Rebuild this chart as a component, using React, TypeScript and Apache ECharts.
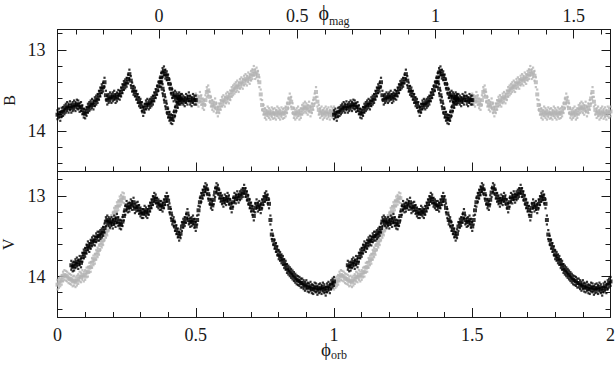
import React, { useEffect, useRef } from "react";
import * as echarts from "echarts";

const PHASE_STEP = 0.005;

// ---- V band (bottom panel), x = orbital phase ----
const V_BLACK_START = 0.05;
const V_BLACK = [
  13.86, 13.88, 13.87, 13.84, 13.82, 13.85, 13.80, 13.83, 13.76, 13.72,
  13.70, 13.66, 13.62, 13.64, 13.60, 13.57, 13.55, 13.56, 13.52, 13.50,
  13.50, 13.48, 13.46, 13.44, 13.40, 13.32, 13.30, 13.32, 13.34, 13.32,
  13.35, 13.30, 13.33, 13.28, 13.32, 13.35, 13.36, 13.32, 13.25, 13.18,
  13.12, 13.15, 13.14, 13.10, 13.12, 13.08, 13.16, 13.14, 13.13, 13.17,
  13.20, 13.22, 13.22, 13.18, 13.20, 13.22, 13.18, 13.14, 13.10, 13.06,
  13.02, 13.04, 13.08, 13.10, 13.12, 13.12, 13.14, 13.10, 13.06, 13.02,
  13.06, 13.15, 13.22, 13.30, 13.32, 13.38, 13.42, 13.46, 13.50, 13.47,
  13.38, 13.34, 13.32, 13.28, 13.22, 13.30, 13.33, 13.32, 13.30, 13.34,
  13.38, 13.30, 13.18, 13.08, 13.02, 12.98, 12.94, 12.90, 12.92, 12.98,
  13.05, 13.10, 13.12, 13.05, 12.96, 12.90, 12.92, 12.98, 13.02, 13.05,
  13.08, 13.04, 13.06, 13.02, 13.05, 13.10, 13.15, 13.08, 13.02, 13.04,
  13.00, 13.03, 13.00, 12.98, 12.96, 12.92, 12.96, 13.00, 13.05, 13.10,
  13.14, 13.18, 13.25, 13.15, 13.10, 13.14, 13.12, 13.16, 13.10, 13.06,
  13.02, 13.00, 13.04, 13.10, 13.30, 13.48, 13.55, 13.60, 13.64, 13.68,
  13.73, 13.75, 13.78, 13.80, 13.84, 13.86, 13.90, 13.92, 13.94, 13.96,
  13.98, 14.00, 14.02, 14.04, 14.05, 14.06, 14.08, 14.08, 14.10, 14.12,
  14.10, 14.13, 14.14, 14.12, 14.15, 14.16, 14.13, 14.14, 14.17, 14.15,
  14.14, 14.16, 14.13, 14.15, 14.18, 14.14, 14.12, 14.15, 14.10, 14.08,
  14.06,
];
const V_GREY_START = 0.0;
const V_GREY = [
  14.10, 14.08, 14.06, 14.04, 14.00, 13.98, 13.99, 14.00, 14.02, 14.03,
  14.04, 14.06, 14.05, 14.07, 14.05, 14.03, 14.00, 14.01, 13.98, 14.00,
  13.98, 13.95, 13.94, 13.89, 13.88, 13.83, 13.80, 13.78, 13.73, 13.70,
  13.67, 13.61, 13.58, 13.55, 13.49, 13.46, 13.43, 13.37, 13.35, 13.30,
  13.27, 13.21, 13.19, 13.14, 13.12, 13.07, 13.05, 13.02, 13.03,
];

// ---- B band (top panel), x = magnetic phase ----
const B_BLACK_START = -0.367;
const B_BLACK = [
  13.80, 13.78, 13.82, 13.77, 13.76, 13.74, 13.72, 13.70, 13.72, 13.69,
  13.72, 13.70, 13.68, 13.70, 13.67, 13.68, 13.71, 13.70, 13.74, 13.78,
  13.79, 13.76, 13.72, 13.70, 13.68, 13.66, 13.68, 13.64, 13.62, 13.60,
  13.56, 13.52, 13.48, 13.46, 13.40, 13.56, 13.62, 13.60, 13.58, 13.60,
  13.58, 13.56, 13.60, 13.58, 13.55, 13.56, 13.52, 13.48, 13.44, 13.42,
  13.40, 13.36, 13.30, 13.38, 13.46, 13.50, 13.52, 13.56, 13.60, 13.64,
  13.66, 13.70, 13.76, 13.72, 13.68, 13.66, 13.68, 13.66, 13.64, 13.62,
  13.58, 13.54, 13.50, 13.45, 13.40, 13.34, 13.28, 13.26, 13.30, 13.32,
  13.36, 13.42, 13.48, 13.54, 13.58, 13.56, 13.58, 13.60, 13.58, 13.62,
  13.60, 13.62, 13.64, 13.60, 13.62, 13.58, 13.62, 13.64, 13.60, 13.62,
  13.62,
];
const B_BRANCH_START = 0.008;
const B_BRANCH = [
  13.40, 13.48, 13.56, 13.64, 13.72, 13.78, 13.82, 13.85, 13.86, 13.82,
  13.76, 13.70, 13.66, 13.62, 13.60,
];
const B_GREY_START = 0.133;
const B_GREY = [
  13.60, 13.62, 13.64, 13.58, 13.62, 13.66, 13.68, 13.62, 13.52, 13.50,
  13.58, 13.64, 13.68, 13.70, 13.66, 13.72, 13.76, 13.72, 13.68, 13.64,
  13.62, 13.64, 13.60, 13.58, 13.60, 13.56, 13.52, 13.50, 13.48, 13.46,
  13.44, 13.46, 13.42, 13.40, 13.42, 13.38, 13.36, 13.38, 13.34, 13.36,
  13.32, 13.30, 13.26, 13.30, 13.28, 13.32, 13.40, 13.55, 13.68, 13.74,
  13.78, 13.80, 13.76, 13.78, 13.80, 13.77, 13.79, 13.78, 13.80, 13.76,
  13.78, 13.80, 13.77, 13.79, 13.78, 13.76, 13.72, 13.66, 13.60, 13.64,
  13.72, 13.78, 13.80, 13.78, 13.76, 13.80, 13.78, 13.74, 13.72, 13.70,
  13.72, 13.74, 13.70, 13.76, 13.72, 13.68, 13.60, 13.52, 13.64, 13.74,
  13.78, 13.76, 13.80, 13.78, 13.76, 13.79, 13.77, 13.80, 13.76, 13.78,
  13.76,
];

// Axis ranges and band half-widths (scatter spread around each read value)
const ORB_RANGE = [0, 2];
const MAG_RANGE = [-0.367, 1.633];
const B_RANGE = [12.75, 14.5];
const V_RANGE = [12.7, 14.5];
const CYCLES = [0, 1];
const SPREAD = { vBlack: 0.055, vGrey: 0.06, bBlack: 0.055, bGrey: 0.06 };

const BLACK = "#000000";
const GREY = "#b3b3b3";
const AXIS = "#1a1a1a";
const FONT = "'Liberation Serif', 'DejaVu Serif', serif";

function pts(start: number, vals: number[], offset: number) {
  const out: number[][] = [];
  for (const c of CYCLES) {
    vals.forEach((m, i) => {
      out.push([+(start + i * PHASE_STEP + c).toFixed(4), +(m + offset).toFixed(3)]);
    });
  }
  return out;
}

function bandSeries(start: number, vals: number[], spread: number, color: string, xi: number, yi: number) {
  const base = {
    type: "scatter",
    xAxisIndex: xi,
    yAxisIndex: yi,
    symbol: "rect",
    silent: true,
    animation: false,
    itemStyle: { color },
  };
  return [
    { ...base, data: pts(start, vals, -spread), symbolSize: 2.2 },
    { ...base, data: pts(start, vals, spread), symbolSize: 2.2 },
    { ...base, data: pts(start, vals, 0), symbolSize: 4 },
  ];
}

const halfFmt = (v: number) => {
  const r = Math.round(v * 2) / 2;
  return Math.abs(v - r) < 1e-6 ? String(r) : "";
};
const intFmt = (v: number) => {
  const r = Math.round(v);
  return Math.abs(v - r) < 1e-6 ? String(r) : "";
};

const axisLine = { show: true, onZero: false, lineStyle: { color: AXIS, width: 1 } };
const axisTick = { show: true, inside: true, length: 9, lineStyle: { color: AXIS, width: 1 } };
const minorTick = { show: true, splitNumber: 5, length: 5, lineStyle: { color: AXIS, width: 1 } };
const labelStyle = { fontFamily: FONT, fontSize: 18, color: AXIS };
const nameRich = {
  p: { fontFamily: FONT, fontSize: 20, color: AXIS, padding: [0, 0, 4, 0] },
  s: { fontFamily: FONT, fontSize: 12, color: AXIS, verticalAlign: "bottom" },
};
const nameRichBottom = {
  p: { fontFamily: FONT, fontSize: 19, color: AXIS, padding: [0, 0, 2, 0] },
  s: { fontFamily: FONT, fontSize: 12, color: AXIS, verticalAlign: "bottom" },
};
const yNameStyle = { fontFamily: FONT, fontSize: 16, color: AXIS };

function buildOption() {
  const xAxis = [
    {
      gridIndex: 0, type: "value", position: "bottom",
      min: ORB_RANGE[0], max: ORB_RANGE[1], minInterval: 0.5, maxInterval: 0.5,
      axisLine, axisTick, minorTick, axisLabel: { show: false }, splitLine: { show: false },
    },
    {
      gridIndex: 0, type: "value", position: "top",
      min: MAG_RANGE[0], max: MAG_RANGE[1], minInterval: 0.5, maxInterval: 0.5,
      axisLine, axisTick, minorTick, splitLine: { show: false },
      axisLabel: { ...labelStyle, margin: 5, formatter: halfFmt, showMinLabel: false, showMaxLabel: false },
      name: "{p|\u03d5}{s|mag}", nameLocation: "middle", nameGap: 3, nameMoveOverlap: false,
      nameTextStyle: { rich: nameRich },
    },
    {
      gridIndex: 1, type: "value", position: "bottom",
      min: ORB_RANGE[0], max: ORB_RANGE[1], minInterval: 0.5, maxInterval: 0.5,
      axisLine, axisTick, minorTick, splitLine: { show: false },
      axisLabel: { ...labelStyle, margin: 9, formatter: halfFmt },
      name: "{p|\u03d5}{s|orb}", nameLocation: "middle", nameGap: 23, nameMoveOverlap: false,
      nameTextStyle: { rich: nameRichBottom },
    },
  ];
  const yCommon = { type: "value", inverse: true, minInterval: 1, maxInterval: 1, axisLine, axisTick, minorTick, splitLine: { show: false } };
  const yAxis = [
    {
      ...yCommon, gridIndex: 0, position: "left", min: B_RANGE[0], max: B_RANGE[1],
      axisLabel: { ...labelStyle, margin: 12, formatter: intFmt, showMinLabel: false, showMaxLabel: false },
      name: "B", nameLocation: "middle", nameRotate: 90, nameGap: 40, nameMoveOverlap: false,
      nameTextStyle: yNameStyle,
    },
    { ...yCommon, gridIndex: 0, position: "right", min: B_RANGE[0], max: B_RANGE[1], axisLabel: { show: false } },
    {
      ...yCommon, gridIndex: 1, position: "left", min: V_RANGE[0], max: V_RANGE[1],
      axisLabel: { ...labelStyle, margin: 12, formatter: intFmt, showMinLabel: false, showMaxLabel: false },
      name: "V", nameLocation: "middle", nameRotate: 90, nameGap: 41, nameMoveOverlap: false,
      nameTextStyle: yNameStyle,
    },
    { ...yCommon, gridIndex: 1, position: "right", min: V_RANGE[0], max: V_RANGE[1], axisLabel: { show: false } },
  ];

  const series = [
    ...bandSeries(B_GREY_START, B_GREY, SPREAD.bGrey, GREY, 1, 0),
    ...bandSeries(B_BLACK_START, B_BLACK, SPREAD.bBlack, BLACK, 1, 0),
    ...bandSeries(B_BRANCH_START, B_BRANCH, SPREAD.bBlack, BLACK, 1, 0),
    ...bandSeries(V_GREY_START, V_GREY, SPREAD.vGrey, GREY, 2, 2),
    ...bandSeries(V_BLACK_START, V_BLACK, SPREAD.vBlack, BLACK, 2, 2),
  ];

  return {
    animation: false,
    backgroundColor: "#ffffff",
    grid: [
      { left: 57.5, right: 5.5, top: 29.5, height: 142, containLabel: false, outerBoundsMode: "none" },
      { left: 57.5, right: 5.5, top: 171.5, height: 145.5, containLabel: false, outerBoundsMode: "none" },
    ],
    xAxis,
    yAxis,
    series,
  };
}

export default function App() {
  const ref = useRef<HTMLDivElement>(null);
  useEffect(() => {
    if (!ref.current) return;
    const chart = echarts.init(ref.current, null, { renderer: "svg" });
    chart.setOption(buildOption() as any);
    return () => chart.dispose();
  }, []);
  return (
    <div
      ref={ref}
      style={{ position: "fixed", left: 0, top: 0, width: 616, height: 365, background: "#fff" }}
    />
  );
}
